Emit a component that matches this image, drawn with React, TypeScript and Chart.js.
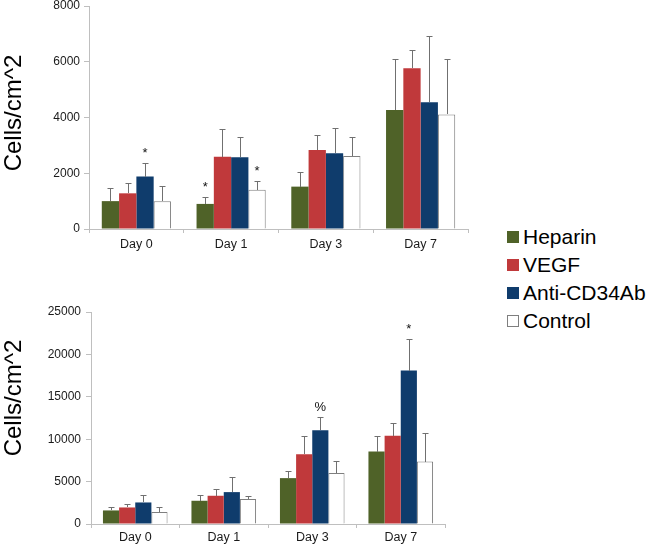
import React, { useEffect, useRef } from 'react';
import { Chart, registerables } from 'chart.js';

Chart.register(...registerables);

const FONT = "'Liberation Sans', Arial, Helvetica, sans-serif";

const days = ['Day 0', 'Day 1', 'Day 3', 'Day 7'];
const seriesNames = ['Heparin', 'VEGF', 'Anti-CD34Ab', 'Control'];
const seriesColors = ['#4F6228', '#C0393B', '#0F3C6C', '#FFFFFF'];

// Top panel (means and upper error)
const topHeparin = [1000, 900, 1520, 4270];
const topVEGF = [1280, 2590, 2830, 5770];
const topAnti = [1880, 2570, 2720, 4550];
const topControl = [1000, 1410, 2620, 4110];
const topHeparinErr = [460, 260, 540, 1830];
const topVEGFErr = [360, 990, 530, 650];
const topAntiErr = [500, 740, 890, 2380];
const topControlErr = [550, 310, 690, 1980];
const topTicks = [0, 2000, 4000, 6000, 8000];
const topMarks = [
  { day: 0, series: 2, text: '*' },
  { day: 1, series: 0, text: '*' },
  { day: 1, series: 3, text: '*' },
];

// Bottom panel
const botHeparin = [1600, 2740, 5410, 8540];
const botVEGF = [1950, 3330, 8230, 10420];
const botAnti = [2540, 3760, 11050, 18100];
const botControl = [1410, 2940, 6000, 7360];
const botHeparinErr = [400, 710, 860, 1840];
const botVEGFErr = [400, 820, 2190, 1530];
const botAntiErr = [830, 1800, 1530, 3690];
const botControlErr = [590, 350, 1440, 3340];
const botTicks = [0, 5000, 10000, 15000, 20000, 25000];
const botMarks = [
  { day: 2, series: 2, text: '%' },
  { day: 3, series: 2, text: '*' },
];

const yTitleText = 'Cells/cm^2';

const errorBarPlugin = {
  id: 'errorBars',
  afterDatasetsDraw(chart: any, _args: any, opts: any) {
    const ctx = chart.ctx;
    const y = chart.scales.y;
    ctx.save();
    ctx.strokeStyle = opts.color || '#777';
    ctx.lineWidth = 1;
    chart.data.datasets.forEach((ds: any, i: number) => {
      const meta = chart.getDatasetMeta(i);
      const errs = opts.errors[i];
      meta.data.forEach((bar: any, j: number) => {
        const v = ds.data[j];
        const base = Math.round(y.getPixelForValue(v));
        const top = Math.round(y.getPixelForValue(v + errs[j]));
        const x = Math.round(bar.x) + 0.5;
        ctx.beginPath();
        ctx.moveTo(x, base);
        ctx.lineTo(x, top);
        ctx.moveTo(x - 3, top + 0.5);
        ctx.lineTo(x + 3, top + 0.5);
        ctx.stroke();
      });
    });
    ctx.restore();
  },
};

const marksPlugin = {
  id: 'sigMarks',
  afterDatasetsDraw(chart: any, _args: any, opts: any) {
    const ctx = chart.ctx;
    const y = chart.scales.y;
    ctx.save();
    ctx.fillStyle = '#111';
    ctx.textAlign = 'center';
    ctx.textBaseline = 'alphabetic';
    (opts.marks || []).forEach((m: any) => {
      const bar = chart.getDatasetMeta(m.series).data[m.day];
      const v = chart.data.datasets[m.series].data[m.day];
      const top = y.getPixelForValue(v + opts.errors[m.series][m.day]);
      ctx.font = '13px ' + FONT;
      ctx.fillText(m.text, bar.x, top - 6);
    });
    ctx.restore();
  },
};

const yTitlePlugin = {
  id: 'yTitle',
  afterDraw(chart: any, _args: any, opts: any) {
    const ctx = chart.ctx;
    ctx.save();
    ctx.translate(opts.x, opts.y);
    ctx.rotate(-Math.PI / 2);
    ctx.font = '24px ' + FONT;
    ctx.fillStyle = '#000';
    ctx.textAlign = 'center';
    ctx.textBaseline = 'alphabetic';
    ctx.fillText(opts.text, 0, 0);
    ctx.restore();
  },
};

function makeConfig(p: {
  data: number[][];
  errs: number[][];
  ticks: number[];
  marks: any[];
  yWidth: number;
  xHeight: number;
  padTop: number;
  padRight: number;
  xPad: number;
  yPad: number;
  titleY: number;
}) {
  return {
    type: 'bar' as const,
    data: {
      labels: days,
      datasets: seriesNames.map((name, i) => ({
        label: name,
        data: p.data[i],
        backgroundColor: seriesColors[i],
        borderColor: i === 3 ? '#7F7F7F' : seriesColors[i],
        borderWidth: i === 3 ? 1 : 0,
        categoryPercentage: 0.73,
        barPercentage: 1.0,
      })),
    },
    options: {
      responsive: false,
      animation: false,
      events: [],
      layout: { padding: { top: p.padTop, right: p.padRight, left: 0, bottom: 0 } },
      plugins: {
        legend: { display: false },
        tooltip: { enabled: false },
        errorBars: { errors: p.errs, color: '#707070' },
        sigMarks: { marks: p.marks, errors: p.errs },
        yTitle: { text: yTitleText, x: 21, y: p.titleY },
      },
      scales: {
        x: {
          grid: { display: true, drawOnChartArea: false, drawTicks: true, tickLength: 4, color: '#BFBFBF' },
          border: { color: '#BFBFBF' },
          ticks: { color: '#1a1a1a', font: { family: FONT, size: 12.5 }, padding: p.xPad, maxRotation: 0 },
          afterFit: (s: any) => { s.height = p.xHeight; },
        },
        y: {
          min: p.ticks[0],
          max: p.ticks[p.ticks.length - 1],
          afterBuildTicks: (s: any) => { s.ticks = p.ticks.map((v) => ({ value: v })); },
          grid: { display: true, drawOnChartArea: false, drawTicks: true, tickLength: 5, color: '#BFBFBF' },
          border: { color: '#BFBFBF' },
          ticks: {
            color: '#1a1a1a',
            font: { family: FONT, size: 12, lineHeight: 1 },
            padding: p.yPad,
            callback: (v: any) => String(v),
          },
          afterFit: (s: any) => { s.width = p.yWidth; },
        },
      },
    },
    plugins: [errorBarPlugin, marksPlugin, yTitlePlugin],
  };
}

function ChartCanvas({ config, width, height, style }: any) {
  const ref = useRef<HTMLCanvasElement | null>(null);
  useEffect(() => {
    if (!ref.current) return;
    const chart = new Chart(ref.current, config as any);
    return () => chart.destroy();
  }, []);
  return <canvas ref={ref} width={width} height={height} style={{ position: 'absolute', display: 'block', ...style }} />;
}

export default function App() {
  const topShift = 4;
  const topConfig = makeConfig({
    data: [topHeparin, topVEGF, topAnti, topControl],
    errs: [topHeparinErr, topVEGFErr, topAntiErr, topControlErr],
    ticks: topTicks,
    marks: topMarks,
    yWidth: 89,
    xHeight: 26,
    padTop: 2,
    padRight: 500 - 468,
    xPad: 4.5,
    yPad: 4,
    titleY: 113 + topShift,
  });
  const botConfig = makeConfig({
    data: [botHeparin, botVEGF, botAnti, botControl],
    errs: [botHeparinErr, botVEGFErr, botAntiErr, botControlErr],
    ticks: botTicks,
    marks: botMarks,
    yWidth: 91,
    xHeight: 21,
    padTop: 62,
    padRight: 500 - 445,
    xPad: 2.2,
    yPad: 5,
    titleY: 398 - 250,
  });
  const legendTops = [237, 265, 293, 321];
  return (
    <div style={{ position: 'absolute', left: 0, top: 0, width: 649, height: 545, background: '#fff', overflow: 'hidden' }}>
      <ChartCanvas config={topConfig} width={500} height={255 + topShift} style={{ left: 0, top: -topShift }} />
      <ChartCanvas config={botConfig} width={500} height={295} style={{ left: 0, top: 250 }} />
      {seriesNames.map((name, i) => (
        <div
          key={name}
          style={{
            position: 'absolute',
            left: 507,
            top: legendTops[i] - 13,
            height: 26,
            display: 'flex',
            alignItems: 'center',
            fontFamily: FONT,
            fontSize: 21,
            color: '#000',
            whiteSpace: 'nowrap',
          }}
        >
          <span
            style={{
              display: 'inline-block',
              width: 12,
              height: 12,
              boxSizing: 'border-box',
              background: seriesColors[i],
              border: i === 3 ? '1px solid #7F7F7F' : 'none',
              marginRight: 4,
            }}
          />
          <span>{name}</span>
        </div>
      ))}
    </div>
  );
}
